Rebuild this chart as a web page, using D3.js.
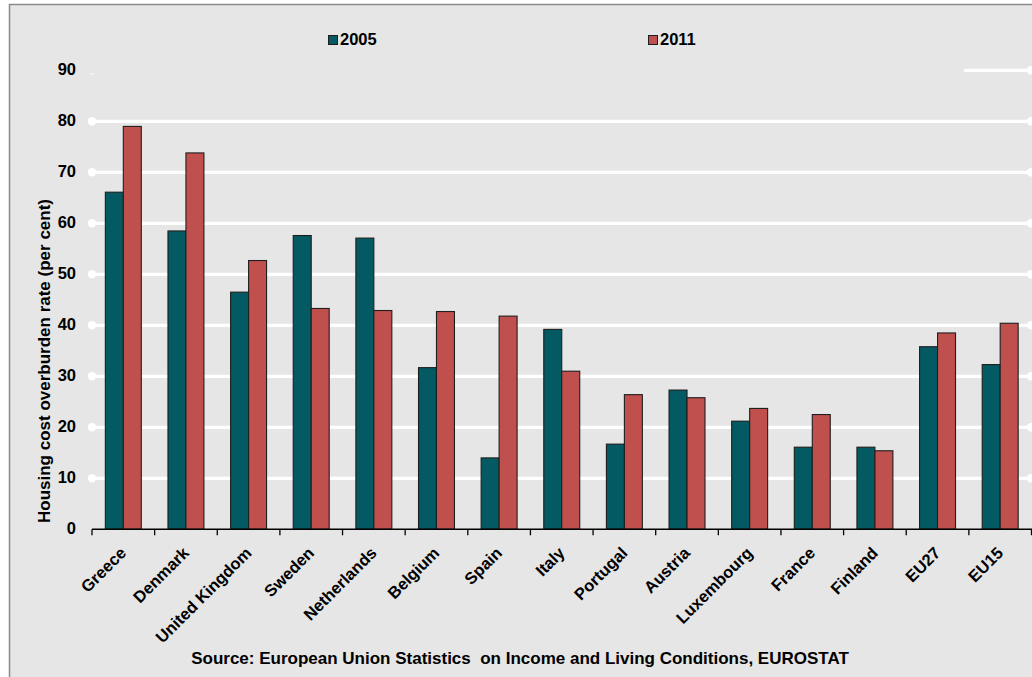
<!DOCTYPE html>
<html><head><meta charset="utf-8">
<script src="https://cdn.jsdelivr.net/npm/d3@7"></script>
<style>html,body{margin:0;padding:0;background:#fff;}svg{display:block;}</style>
</head><body>
<svg id="chart" width="1032" height="677"></svg>
<script>
const categories = ["Greece","Denmark","United Kingdom","Sweden","Netherlands","Belgium","Spain","Italy","Portugal","Austria","Luxembourg","France","Finland","EU27","EU15"];
const seriesNames = ["2005","2011"];
const values2005 = [66.1,58.5,46.5,57.6,57.1,31.7,14.0,39.2,16.7,27.3,21.2,16.1,16.1,35.8,32.3];
const values2011 = [79.0,73.8,52.7,43.3,42.9,42.7,41.8,31.0,26.4,25.8,23.7,22.5,15.4,38.5,40.4];
const yTicks = [0,10,20,30,40,50,60,70,80,90];
const colors = ["#045a63","#c0504d"];
const yTitle = "Housing cost overburden rate (per cent)";
const sourceText = "Source: European Union Statistics  on Income and Living Conditions, EUROSTAT";

const svg = d3.select("#chart");
const W = 1032, H = 677;
const bg = "#e6e6e6";
const font = "'Liberation Sans', Arial, sans-serif";

// frame
svg.append("rect").attr("x",10).attr("y",5).attr("width",W-10).attr("height",H-5).attr("fill",bg);
svg.append("path").attr("d",`M9.5,${H} V4.5 H${W}`).attr("fill","none").attr("stroke","#8a8a8a").attr("stroke-width",1.5);

const x0 = d3.scaleBand().domain(categories).range([92,1031.5]).paddingInner(0).paddingOuter(0);
const bw = x0.bandwidth();
const x1 = d3.scaleBand().domain(seriesNames).range([bw*0.213, bw*0.787]);
const y = d3.scaleLinear().domain([0,90]).range([529.3,70.3]);

// gridlines
const grid = svg.append("g");
yTicks.filter(t=>t>0).forEach(t=>{
  const yy = y(t);
  grid.append("line").attr("x1",92).attr("x2",1031).attr("y1",yy).attr("y2",yy)
    .attr("stroke","#fff").attr("stroke-width",3.2);
  grid.append("circle").attr("cx",92).attr("cy",yy).attr("r",4.2).attr("fill","#fff");
  grid.append("circle").attr("cx",1031).attr("cy",yy).attr("r",4.2).attr("fill","#fff");
});

// legend box covering top gridline
svg.append("rect").attr("x",87).attr("y",20).attr("width",877).attr("height",53.5).attr("fill",bg);

// bars
const data = categories.map((c,i)=>({c, vals:[values2005[i], values2011[i]]}));
const groups = svg.append("g").selectAll("g").data(data).join("g")
  .attr("transform", d=>`translate(${x0(d.c)},0)`);
groups.selectAll("rect").data(d=>d.vals.map((v,k)=>({s:seriesNames[k], v, k})))
  .join("rect")
  .attr("x", d=>x1(d.s)).attr("width", x1.bandwidth())
  .attr("y", d=>y(d.v)).attr("height", d=>y(0)-y(d.v))
  .attr("fill", d=>colors[d.k]).attr("stroke","#1e1e1e").attr("stroke-width",1.1);

// x axis
const xAxis = svg.append("g").attr("transform",`translate(0,${y(0)})`);
xAxis.append("line").attr("x1",92).attr("x2",W).attr("y1",0).attr("y2",0).attr("stroke","#000").attr("stroke-width",1.5);
const bounds = categories.map(c=>x0(c)).concat([x0(categories[categories.length-1])+bw]);
xAxis.selectAll("line.tk").data(bounds).join("line").attr("class","tk")
  .attr("x1",d=>d).attr("x2",d=>d).attr("y1",0).attr("y2",6).attr("stroke","#000").attr("stroke-width",1.3);
svg.append("g").selectAll("text").data(categories).join("text")
  .attr("transform", d=>`translate(${x0(d)+bw/2+4},554) rotate(-45)`)
  .attr("text-anchor","end")
  .attr("font-family",font).attr("font-weight","bold").attr("font-size","16.5px").attr("fill","#000")
  .text(d=>d);

// y tick labels
svg.append("g").selectAll("text").data(yTicks).join("text")
  .attr("x",76).attr("y",d=>y(d)).attr("dy","0.3em").attr("text-anchor","end")
  .attr("font-family",font).attr("font-weight","bold").attr("font-size","16.5px").attr("fill","#000")
  .text(d=>d);

// y title
svg.append("text").attr("transform","translate(50,361) rotate(-90)").attr("text-anchor","middle")
  .attr("font-family",font).attr("font-weight","bold").attr("font-size","17px").attr("fill","#000")
  .text(yTitle);

// legend
const legX = [328, 648];
seriesNames.forEach((s,i)=>{
  svg.append("rect").attr("x",legX[i]+0.5).attr("y",35.5).attr("width",9).attr("height",9)
    .attr("fill",colors[i]).attr("stroke","#1e1e1e").attr("stroke-width",1);
  svg.append("text").attr("x",legX[i]+12).attr("y",45.3)
    .attr("font-family",font).attr("font-weight","bold").attr("font-size","16.5px").attr("fill","#000").text(s);
});

// source
svg.append("text").attr("x",520).attr("y",664).attr("text-anchor","middle")
  .attr("font-family",font).attr("font-weight","bold").attr("font-size","17px").attr("fill","#000")
  .style("white-space","pre")
  .text(sourceText);
</script>
</body></html>
